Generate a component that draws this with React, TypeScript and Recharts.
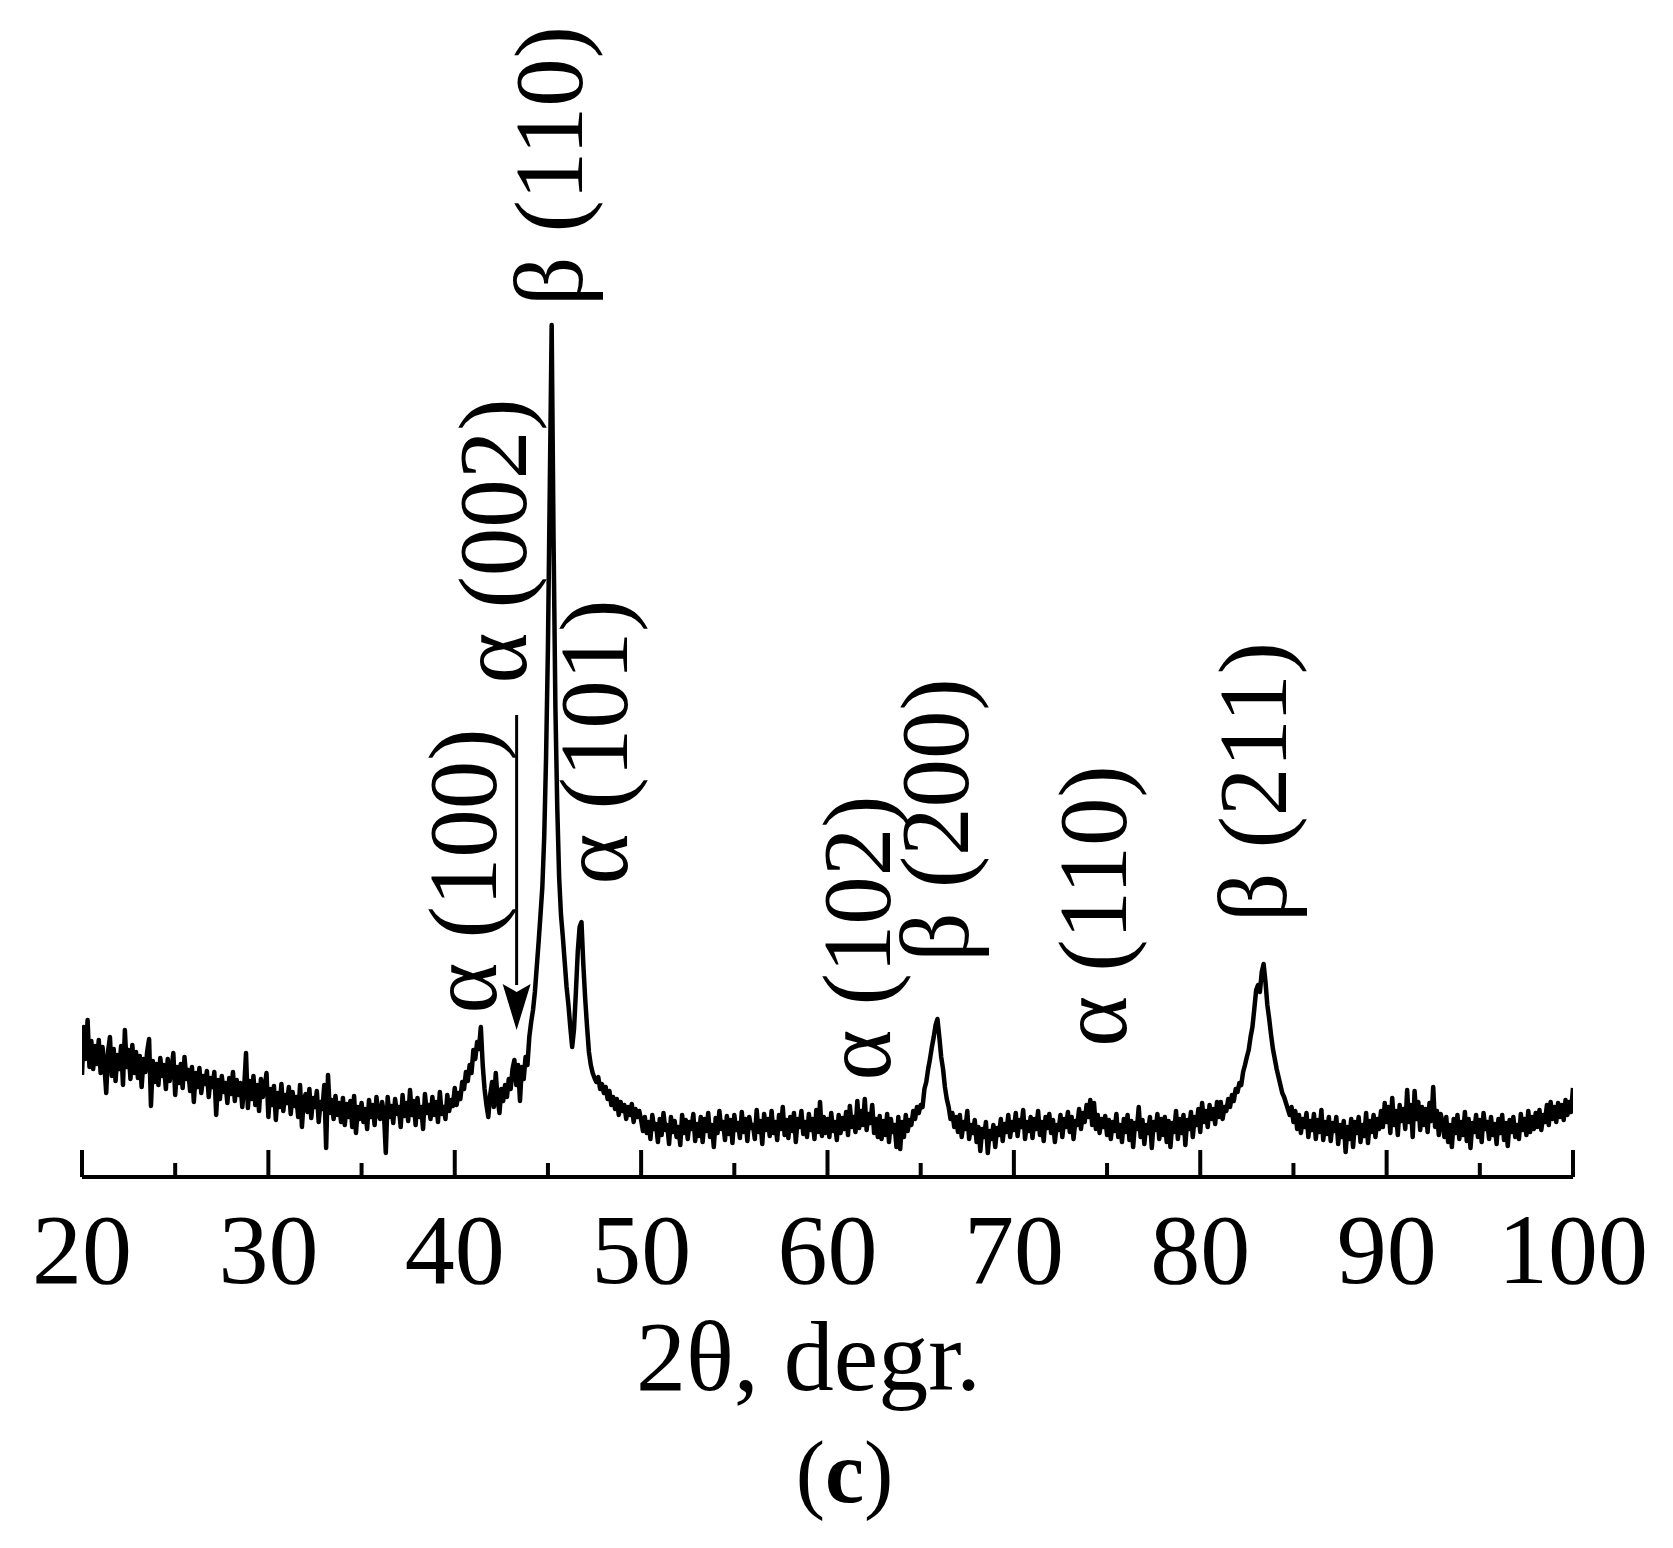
import React from 'react';
import { LineChart, Line, XAxis, YAxis, ReferenceDot, ReferenceLine, Label } from 'recharts';

const FONT = "'Liberation Serif', 'Times New Roman', Times, serif";

// Intensity (arbitrary units) sampled every 0.1 degree, one array per decade of 2θ
const I20 = [102,150,118,157,110,136,108,131,113,137,
  104,130,112,84,126,140,101,128,96,122,
  108,131,92,147,110,127,98,132,104,125,
  99,121,90,118,105,126,138,71,116,95,
  113,92,119,101,112,88,118,96,107,124,
  82,110,94,113,89,120,98,107,86,110,
  75,104,90,109,84,101,93,106,80,99,
  90,105,62,97,78,101,85,94,74,99,
  83,105,76,97,82,94,70,89,124,69,
  96,78,101,72,92,66,98,80,90,104];
const I30 = [60,88,72,91,57,84,70,93,66,82,
  74,90,63,85,71,80,60,92,50,78,
  83,65,88,59,79,70,86,55,75,68,
  92,29,102,64,77,58,81,62,74,55,
  79,52,73,60,76,50,81,44,70,58,
  74,55,68,48,77,60,72,52,80,62,
  58,75,64,24,80,60,71,54,78,63,
  70,50,82,61,74,56,87,62,76,52,
  79,60,70,48,83,64,72,58,80,62,
  75,55,85,63,70,58,82,66,77,71];
const I40 = [89,72,84,78,95,88,105,96,112,104,
  127,118,135,128,150,112,88,72,60,82,
  95,70,104,78,64,88,76,92,80,98,
  88,108,117,92,112,76,110,98,120,112,
  140,155,167,185,210,235,262,290,340,420,
  530,690,852,640,470,370,300,262,240,215,
  190,172,150,130,148,185,225,250,255,212,
  178,150,125,112,104,99,95,100,88,93,
  84,90,78,86,72,80,68,78,62,75,
  66,72,58,70,62,73,55,68,60,66];
const I50 = [57,46,60,44,55,38,62,48,53,35,
  58,42,64,47,52,33,60,45,56,40,
  50,32,62,44,57,38,55,48,63,36,
  53,41,60,35,58,46,64,40,52,30,
  59,44,66,48,55,37,61,43,57,34,
  62,47,54,39,65,45,58,36,60,49,
  52,38,67,45,56,33,63,47,58,41,
  66,44,55,37,62,48,70,42,57,39,
  60,46,64,35,58,50,66,43,55,40,
  63,47,58,38,67,45,75,41,60,44];
const I60 = [58,40,64,46,55,37,62,44,59,48,
  65,42,71,50,60,45,76,49,66,52,
  78,47,63,54,72,44,58,40,61,38,
  56,42,63,35,58,45,52,30,60,28,
  55,40,62,46,57,52,66,58,70,64,
  72,70,88,95,108,118,130,140,152,158,
  140,120,108,90,78,70,58,64,50,60,
  45,62,40,55,48,66,38,52,44,57,
  35,50,26,48,40,55,24,46,38,52,
  30,49,42,58,36,53,45,62,40,55];
const I70 = [47,64,41,57,50,67,38,55,46,60,
  39,58,48,66,42,55,36,60,49,63,
  44,57,35,52,47,62,40,58,50,65,
  45,60,38,56,52,68,48,64,55,72,
  60,77,52,74,48,62,44,58,50,61,
  42,57,38,55,46,63,40,52,35,58,
  45,62,37,56,30,54,48,70,40,57,
  33,52,44,60,29,55,47,63,38,58,
  42,60,35,56,30,54,45,66,38,58,
  44,62,32,57,48,65,40,60,52,68];
const I80 = [45,74,55,66,50,72,58,68,53,75,
  60,75,58,70,66,78,70,82,76,88,
  85,94,92,105,112,120,127,140,150,168,
  187,192,185,205,213,195,172,158,142,128,
  118,108,100,92,84,80,74,68,62,70,
  55,66,48,62,44,58,50,64,40,56,
  47,63,38,57,45,67,37,55,43,60,
  36,54,46,60,33,52,40,56,25,50,
  38,58,30,55,44,60,35,52,41,64,
  34,56,45,62,40,58,48,66,50,74];
const I90 = [55,70,44,79,52,66,42,72,56,68,
  48,87,55,72,40,86,58,75,47,70,
  52,68,45,74,56,90,50,66,42,63,
  55,40,60,35,52,30,58,44,62,38,
  55,42,65,36,58,29,54,45,62,40,
  57,35,64,48,55,38,60,42,53,33,
  58,44,62,37,54,31,57,45,60,40,
  52,38,63,47,58,42,66,45,60,48,
  64,50,67,47,62,55,72,52,75,58,
  70,55,74,60,72,57,77,62,75,65,
  89];

const SEGMENT_STARTS = [20, 30, 40, 50, 60, 70, 80, 90];
const SEGMENTS = [I20, I30, I40, I50, I60, I70, I80, I90];

const X_TICKS = [20, 25, 30, 35, 40, 45, 50, 55, 60, 65, 70, 75, 80, 85, 90, 95, 100];
const X_TITLE = '2θ, degr.';
const PANEL = 'c';

// Peak annotations: 2θ of text baseline, intensity of text centre
const PEAK_LABELS = [
  { text: 'β (110)', x: 46.81, y: 1011 },
  { text: 'α (002)', x: 43.81, y: 636 },
  { text: 'α (100)', x: 42.2, y: 306 },
  { text: 'α (101)', x: 49.22, y: 435 },
  { text: 'α (102)', x: 63.38, y: 239 },
  { text: 'β (200)', x: 67.56, y: 357 },
  { text: 'α (110)', x: 76.03, y: 271 },
  { text: 'β (211)', x: 84.61, y: 395 },
];
const ARROW = { x: 43.32, top: 462, base: 192, tip: 147 };

const data = SEGMENTS.flatMap((seg, k) =>
  seg.map((v, i) => ({ x: Math.round(SEGMENT_STARTS[k] * 10 + i) / 10, y: v }))
);

function AxisTick(props: any) {
  const { x, y, payload } = props;
  const v = payload.value;
  const major = v % 10 === 0;
  return (
    <g>
      <line x1={x} x2={x} y1={y} y2={y - (major ? 27 : 14)} stroke="#000" strokeWidth={4} />
      {major && (
        <text x={x} y={y + 106} textAnchor="middle" fontFamily={FONT} fontSize={100} fill="#000">
          {v}
        </text>
      )}
    </g>
  );
}

function AxisTitle(props: any) {
  const vb = props.viewBox || {};
  const cx = (vb.x ?? 82) + (vb.width ?? 1491) / 2;
  const y0 = vb.y ?? 1177;
  return (
    <g>
      <text x={cx - 19} y={y0 + 213} textAnchor="middle" fontFamily={FONT} fontSize={100} fill="#000">
        {X_TITLE}
      </text>
      <text x={cx + 17} y={y0 + 325} textAnchor="middle" fontFamily={FONT} fontSize={88} fill="#000">
        (<tspan fontWeight="bold">{PANEL}</tspan>)
      </text>
    </g>
  );
}

function rotatedLabel(text: string) {
  return (p: any) => (
    <text
      x={p.cx}
      y={p.cy}
      transform={`rotate(-90 ${p.cx} ${p.cy})`}
      textAnchor="middle"
      fontFamily={FONT}
      fontSize={97}
      fill="#000"
    >
      {text}
    </text>
  );
}

const arrowHead = (p: any) => (
  <polygon
    points={`${p.cx},${p.cy} ${p.cx - 14},${p.cy - 46} ${p.cx},${p.cy - 38} ${p.cx + 14},${p.cy - 46}`}
    fill="#000"
  />
);

export default function App() {
  return (
    <div style={{ position: 'absolute', left: 0, top: 0, width: 1673, height: 1548, background: '#fff' }}>
      <LineChart width={1673} height={1548} data={data} margin={{ top: 0, right: 100, bottom: 261, left: 82 }}>
        <XAxis
          dataKey="x"
          type="number"
          domain={[20, 100]}
          ticks={X_TICKS}
          interval={0}
          tick={<AxisTick />}
          tickLine={false}
          tickSize={0}
          tickMargin={0}
          axisLine={{ stroke: '#000', strokeWidth: 4 }}
          height={110}
          allowDataOverflow
        >
          <Label content={AxisTitle} />
        </XAxis>
        <YAxis hide type="number" domain={[0, 1177]} allowDataOverflow />
        <Line
          dataKey="y"
          type="linear"
          stroke="#000"
          strokeWidth={4.5}
          strokeLinejoin="round"
          dot={false}
          isAnimationActive={false}
        />
        <ReferenceLine
          segment={[{ x: ARROW.x, y: ARROW.top }, { x: ARROW.x, y: ARROW.base }]}
          stroke="#000"
          strokeWidth={3}
        />
        <ReferenceDot x={ARROW.x} y={ARROW.tip} r={0} ifOverflow="visible" shape={arrowHead} />
        {PEAK_LABELS.map((l) => (
          <ReferenceDot key={l.text} x={l.x} y={l.y} r={0} ifOverflow="visible" shape={rotatedLabel(l.text)} />
        ))}
      </LineChart>
    </div>
  );
}
